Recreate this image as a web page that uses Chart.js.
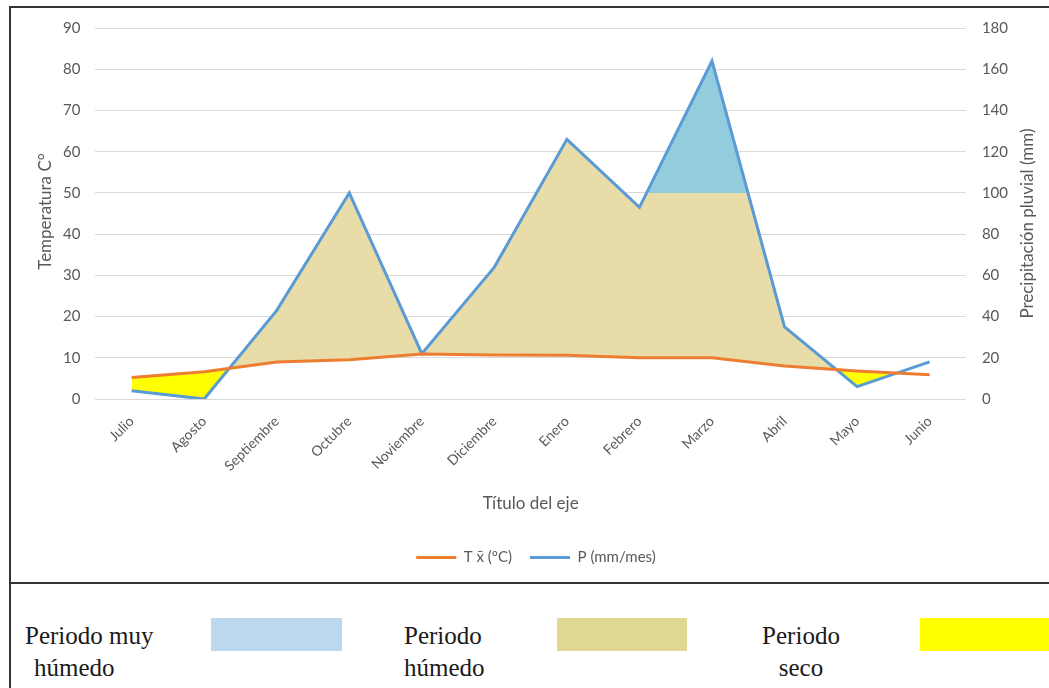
<!DOCTYPE html>
<html>
<head>
<meta charset="utf-8">
<script src="https://cdn.jsdelivr.net/npm/chart.js@4"></script>
<style>
  html, body { margin: 0; padding: 0; background: #fff; width: 1049px; height: 688px; overflow: hidden; }
  #frame { position: absolute; left: 9px; top: 6px; width: 1050px; height: 700px;
           border-left: 2px solid #333; border-top: 2px solid #333; }
  #divider { position: absolute; left: 9px; top: 582px; width: 1045px; border-top: 2px solid #333; }
  #chartBox { position: absolute; left: 11px; top: 3px; width: 1038px; height: 578px; }
  .lbl { position: absolute; font-family: "Liberation Serif", "Times New Roman", serif;
         font-size: 25px; line-height: 32px; color: #1a1a1a; white-space: nowrap; }
  .sw { position: absolute; top: 618px; height: 33px; }
</style>
</head>
<body>
<div id="frame"></div>
<div id="chartBox"><canvas id="c"></canvas></div>
<div id="divider"></div>

<div class="lbl" style="left:25px; top:620px;">Periodo muy</div>
<div class="lbl" style="left:34px; top:652px;">húmedo</div>
<div class="sw" style="left:211px; width:131px; background:#BDD7EE;"></div>

<div class="lbl" style="left:404px; top:620px;">Periodo<br>húmedo</div>
<div class="sw" style="left:557px; width:130px; background:#E0D794;"></div>

<div class="lbl" style="left:741px; top:620px; width:120px; text-align:center;">Periodo<br>seco</div>
<div class="sw" style="left:920px; width:129px; background:#FFFF00;"></div>

<script>
// Monthly climate data, July to June
const meses = ['Julio', 'Agosto', 'Septiembre', 'Octubre', 'Noviembre', 'Diciembre',
               'Enero', 'Febrero', 'Marzo', 'Abril', 'Mayo', 'Junio'];
// Mean temperature (°C)
const temperatura = [5.2, 6.6, 9.0, 9.5, 10.9, 10.7, 10.6, 10.0, 10.0, 8.0, 6.8, 5.9];
// Precipitation (mm/month)
const precipitacion = [4, 0, 43, 100, 22, 64, 126, 93, 164, 35, 6, 18];
// Months shaded as very humid above the 100 mm line
const mesesMuyHumedos = ['Febrero', 'Marzo', 'Abril'];
const umbralMuyHumedo = 100;
// Humid shading runs from the first month up to this one
const ultimoMesHumedo = 'Mayo';

const ticksTemp = [0, 10, 20, 30, 40, 50, 60, 70, 80, 90];
const ticksPrec = [0, 20, 40, 60, 80, 100, 120, 140, 160, 180];

const precMuyHumedo = meses.map((m, i) => mesesMuyHumedos.includes(m) ? precipitacion[i] : null);
const finHumedo = meses.indexOf(ultimoMesHumedo);
const precHumedo = precipitacion.map((v, i) => i <= finHumedo ? v : null);

const fontFam = 'Lato, "Open Sans", sans-serif';
const grey = '#595959';
const tituloIzquierdo = 'Temperatura C°';
const tituloDerecho = 'Precipitación pluvial (mm)';

// Vertical axis titles, both read from bottom to top
const axisTitles = {
  id: 'axisTitles',
  afterDraw(chart) {
    const { ctx, chartArea } = chart;
    const midY = (chartArea.top + chartArea.bottom) / 2;
    const draw = (text, x, y) => {
      ctx.save();
      ctx.translate(x, y);
      ctx.rotate(-Math.PI / 2);
      ctx.fillStyle = grey;
      ctx.font = '17px ' + fontFam;
      ctx.textAlign = 'center';
      ctx.textBaseline = 'middle';
      ctx.fillText(text, 0, 0);
      ctx.restore();
    };
    draw(tituloIzquierdo, 35, midY - 2);
    draw(tituloDerecho, chart.width - 21, midY + 10);
  }
};

const transparent = 'rgba(0,0,0,0)';

new Chart(document.getElementById('c'), {
  type: 'line',
  data: {
    labels: meses,
    datasets: [
      {
        label: 'T x\u0304 (°C)',
        data: temperatura,
        yAxisID: 'y',
        borderColor: '#ED7D31',
        backgroundColor: '#ED7D31',
        borderWidth: 3,
        pointRadius: 0,
        fill: false
      },
      {
        label: 'P (mm/mes)',
        data: precipitacion,
        yAxisID: 'y1',
        borderColor: '#5B9BD5',
        backgroundColor: '#5B9BD5',
        borderWidth: 3,
        pointRadius: 0,
        fill: false
      },
      {
        label: 'muy húmedo',
        data: precMuyHumedo,
        yAxisID: 'y1',
        borderWidth: 0,
        borderColor: transparent,
        pointRadius: 0,
        fill: { target: { value: umbralMuyHumedo }, above: '#93CDDD', below: transparent }
      },
      {
        label: 'húmedo',
        data: precHumedo,
        yAxisID: 'y1',
        borderWidth: 0,
        borderColor: transparent,
        pointRadius: 0,
        fill: { target: 0, above: '#E8DDA9', below: transparent }
      },
      {
        label: 'seco',
        data: precipitacion,
        yAxisID: 'y1',
        borderWidth: 0,
        borderColor: transparent,
        pointRadius: 0,
        fill: { target: 0, above: transparent, below: '#FFFF00' }
      }
    ]
  },
  options: {
    responsive: true,
    maintainAspectRatio: false,
    animation: false,
    layout: { padding: { top: 0, left: 37, right: 25, bottom: 6 } },
    plugins: {
      tooltip: { enabled: false },
      legend: {
        position: 'bottom',
        labels: {
          filter: (item) => item.datasetIndex < 2,
          usePointStyle: true,
          pointStyle: 'line',
          pointStyleWidth: 40,
          color: grey,
          font: { family: fontFam, size: 15 },
          padding: 18
        }
      }
    },
    scales: {
      x: {
        offset: true,
        grid: { display: false },
        border: { display: false },
        ticks: {
          autoSkip: false, maxRotation: 45, minRotation: 45,
          color: grey, font: { family: fontFam, size: 14 }, padding: 6
        },
        title: {
          display: true, text: 'Título del eje', color: grey,
          font: { family: fontFam, size: 17 }, padding: { top: 13, bottom: 18 }
        }
      },
      y: {
        position: 'left',
        min: 0, max: 90,
        afterBuildTicks: (s) => { s.ticks = ticksTemp.map(v => ({ value: v })); },
        grid: { color: '#D9D9D9', drawTicks: false, lineWidth: 1 },
        border: { display: false },
        ticks: { color: grey, font: { family: fontFam, size: 15 }, padding: 15 }
      },
      y1: {
        position: 'right',
        min: 0, max: 180,
        afterBuildTicks: (s) => { s.ticks = ticksPrec.map(v => ({ value: v })); },
        grid: { display: false, drawTicks: false },
        border: { display: false },
        ticks: { color: grey, font: { family: fontFam, size: 15 }, padding: 16 }
      }
    }
  },
  plugins: [axisTitles]
});
</script>
</body>
</html>
